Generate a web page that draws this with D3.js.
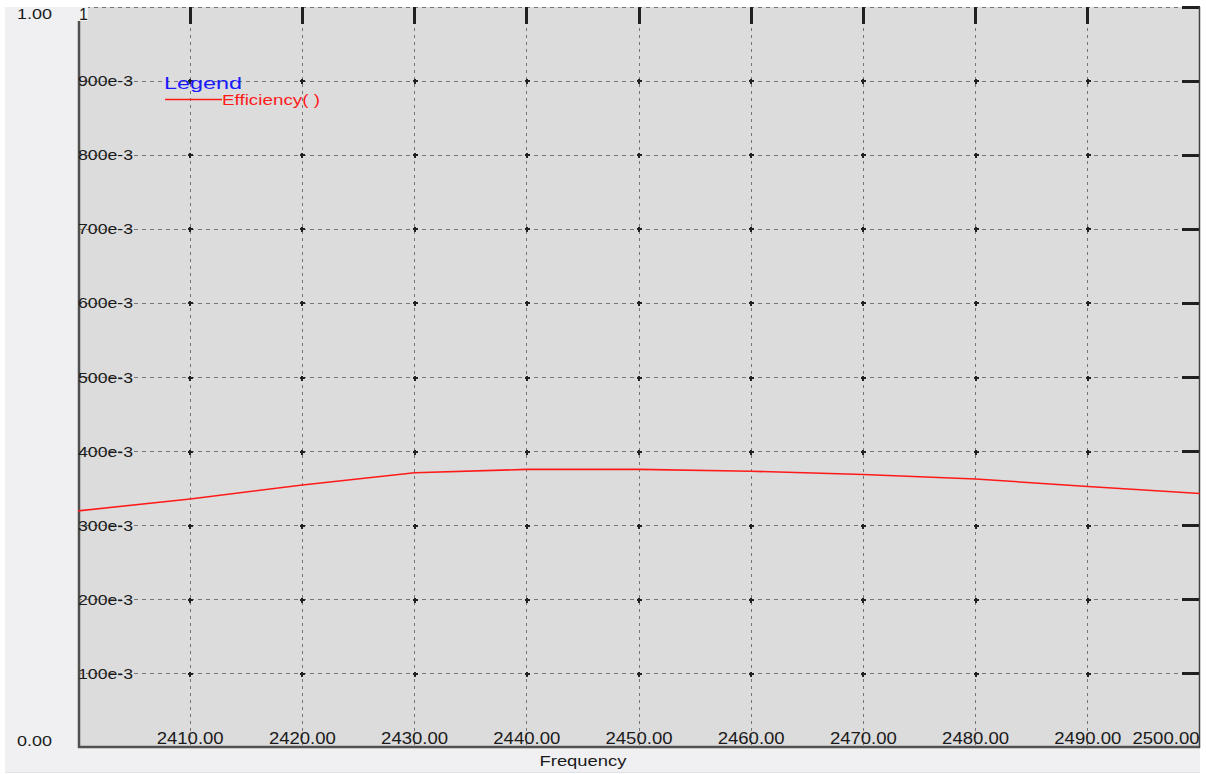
<!DOCTYPE html>
<html>
<head>
<meta charset="utf-8">
<script src="https://cdn.jsdelivr.net/npm/d3@7"></script>
<style>
  html, body { margin: 0; padding: 0; background: #ffffff; }
  svg { display: block; font-family: "Liberation Sans", Arial, sans-serif; }
</style>
</head>
<body>
<div id="chart"></div>
<script>
"use strict";

// data
const frequency = [2400, 2410, 2420, 2430, 2440, 2450, 2460, 2470, 2480, 2490, 2500];
const efficiency = [0.320, 0.336, 0.355, 0.3715, 0.376, 0.376, 0.3735, 0.369, 0.363, 0.353, 0.3435];
const xTicks = [2410, 2420, 2430, 2440, 2450, 2460, 2470, 2480, 2490, 2500];
const yTicks = [0.1, 0.2, 0.3, 0.4, 0.5, 0.6, 0.7, 0.8, 0.9];
const yTickLabels = ["100e-3", "200e-3", "300e-3", "400e-3", "500e-3", "600e-3", "700e-3", "800e-3", "900e-3"];
const seriesName = "Efficiency( )";

const svgWidth = 1206;
const svgHeight = 774;
const plot = { left: 78, right: 1200, top: 7, bottom: 748 };

const svg = d3
    .select("#chart")
    .append("svg")
    .attr("width", svgWidth)
    .attr("height", svgHeight);

// outer panel
svg.append("rect")
    .attr("x", 5).attr("y", 7)
    .attr("width", 1195).attr("height", 765)
    .attr("fill", "#f0f0f2");
svg.append("line")
    .attr("x1", 5).attr("x2", 1200)
    .attr("y1", 772.5).attr("y2", 772.5)
    .attr("stroke", "#e2e2ea");

const xScale = d3.scaleLinear().domain([2400, 2500]).range([plot.left, plot.right]);
const yScale = d3.scaleLinear().domain([0, 1]).range([plot.bottom, plot.top]);

// plot background
svg.append("rect")
    .attr("x", plot.left).attr("y", plot.top)
    .attr("width", plot.right - plot.left)
    .attr("height", plot.bottom - plot.top)
    .attr("fill", "#dcdcdc");

const defs = svg.append("defs");
defs.append("clipPath").attr("id", "plot-clip")
    .append("rect")
    .attr("x", plot.left).attr("y", 0)
    .attr("width", plot.right - plot.left)
    .attr("height", svgHeight);

// grid
const grid = svg.append("g").attr("shape-rendering", "crispEdges");
grid.selectAll(".vgrid")
    .data(xTicks.filter(d => d < 2500))
    .enter().append("line")
    .attr("x1", d => xScale(d)).attr("x2", d => xScale(d))
    .attr("y1", plot.top).attr("y2", plot.bottom)
    .attr("stroke", "#767676")
    .attr("stroke-dasharray", "3,4");
grid.selectAll(".hgrid")
    .data(yTicks.concat([1]))
    .enter().append("line")
    .attr("x1", plot.left).attr("x2", plot.right)
    .attr("y1", d => yScale(d)).attr("y2", d => yScale(d))
    .attr("stroke", "#767676")
    .attr("stroke-dasharray", "4,4");

// small crosses at grid intersections
const crosses = [];
xTicks.filter(d => d < 2500).forEach(fx => yTicks.forEach(vy => crosses.push([fx, vy])));
grid.selectAll(".cross")
    .data(crosses)
    .enter().append("path")
    .attr("d", d => {
        const cx = Math.round(xScale(d[0])), cy = Math.round(yScale(d[1]));
        return `M${cx - 2},${cy}H${cx + 3}M${cx},${cy - 2}V${cy + 3}`;
    })
    .attr("stroke", "#202020")
    .attr("stroke-width", 1.2);

// top ticks
grid.selectAll(".ttick")
    .data(xTicks.filter(d => d < 2500))
    .enter().append("line")
    .attr("x1", d => xScale(d)).attr("x2", d => xScale(d))
    .attr("y1", plot.top).attr("y2", plot.top + 17)
    .attr("stroke", "#202020")
    .attr("stroke-width", 3);

// right ticks
grid.selectAll(".rtick")
    .data(yTicks.concat([1]))
    .enter().append("line")
    .attr("x1", plot.right - 18).attr("x2", plot.right)
    .attr("y1", d => yScale(d)).attr("y2", d => yScale(d))
    .attr("stroke", "#202020")
    .attr("stroke-width", 3);

// axis lines
svg.append("line")
    .attr("x1", plot.left + 1).attr("x2", plot.left + 1)
    .attr("y1", plot.top + 14).attr("y2", plot.bottom)
    .attr("stroke", "#505050").attr("stroke-width", 2.5);
svg.append("line")
    .attr("x1", plot.left).attr("x2", plot.right)
    .attr("y1", plot.bottom - 1).attr("y2", plot.bottom - 1)
    .attr("stroke", "#505050").attr("stroke-width", 2.5);
svg.append("line")
    .attr("x1", plot.right - 0.5).attr("x2", plot.right - 0.5)
    .attr("y1", plot.top).attr("y2", plot.bottom)
    .attr("stroke", "#404040").attr("stroke-width", 1.5);

// series
const line = d3.line()
    .x((_, i) => xScale(frequency[i]))
    .y(d => yScale(d));
svg.append("path")
    .datum(efficiency)
    .attr("d", line)
    .attr("fill", "none")
    .attr("stroke", "#ff1a1a")
    .attr("stroke-width", 1.6);

// text helper: fit to measured width (the original glyphs are wide)
function label(parent, x, y, text, size, width, anchor, color) {
    const t = parent.append("text")
        .attr("x", x).attr("y", y)
        .attr("font-size", size)
        .attr("fill", color || "#1a1a1a")
        .attr("text-anchor", anchor || "start")
        .text(text);
    if (width) {
        t.attr("textLength", width).attr("lengthAdjust", "spacingAndGlyphs");
    }
    return t;
}

// y tick labels (inside the plot)
const yLabels = svg.append("g");
yTicks.forEach((v, i) => {
    label(yLabels, plot.left, yScale(v) + 5, yTickLabels[i], 15, 55);
});
yLabels.append("rect")
    .attr("x", plot.left).attr("y", plot.top)
    .attr("width", 10).attr("height", 14)
    .attr("fill", "#f0f0f0");
label(yLabels, plot.left + 1, plot.top + 13, "1", 16, null);

// outer y labels
label(svg, 17, 19, "1.00", 15, 35);
label(svg, 17, 746, "0.00", 15, 35);

// x tick labels
const xLabels = svg.append("g").attr("clip-path", "url(#plot-clip)");
xTicks.forEach(v => {
    const x = v === 2500 ? xScale(v) - 34 : xScale(v);
    label(xLabels, x, 744, d3.format(".2f")(v), 16, 67, "middle");
});

// axis title
label(svg, 583, 766, "Frequency", 14, 87, "middle");

// legend
label(svg, 164, 89, "Legend", 17, 78, "start", "#1a1aff");
svg.append("line")
    .attr("x1", 165).attr("x2", 222)
    .attr("y1", 99.5).attr("y2", 99.5)
    .attr("stroke", "#ff1a1a").attr("stroke-width", 1.3);
label(svg, 222, 105, seriesName, 14, 98, "start", "#ff1a1a");
</script>
</body>
</html>
